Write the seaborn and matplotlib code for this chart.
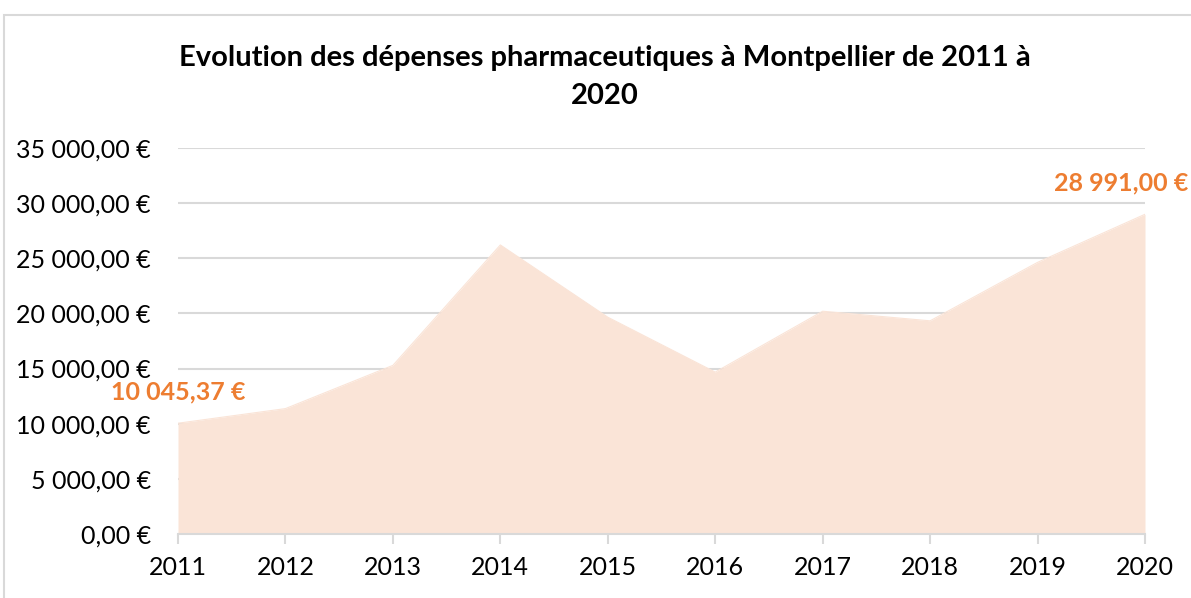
import numpy as np
import pandas as pd
import seaborn as sns
import matplotlib.pyplot as plt
from matplotlib.patches import Rectangle
from matplotlib.ticker import FuncFormatter

annees = [2011, 2012, 2013, 2014, 2015, 2016, 2017, 2018, 2019, 2020]
depenses = [10045.37, 11370, 15290, 26210, 19660, 14680, 20200, 19330, 24630, 28991.00]
titre = "Evolution des dépenses pharmaceutiques à Montpellier de 2011 à\n2020"

data = pd.DataFrame({"annee": annees, "depenses": depenses})

sns.set_style("white")
plt.rcParams['font.family'] = ['Lato', 'DejaVu Sans']

fig = plt.figure(figsize=(11.91, 5.98), dpi=100)
ax = fig.add_axes([178 / 1191, 1 - 534 / 598, (1145 - 178) / 1191, (534 - 148) / 598])

fill = "#FAE4D7"
ax.fill_between(data["annee"], data["depenses"], color=fill, lw=0, zorder=2)
sns.lineplot(x="annee", y="depenses", data=data, color=fill, lw=0.8, ax=ax, zorder=3)

ax.set_xlim(2011, 2020)
ax.set_ylim(0, 35000)
ax.set_yticks(np.arange(0, 35001, 5000))
ax.set_xticks(annees)
ax.yaxis.set_major_formatter(FuncFormatter(lambda v, p: f"{v:,.2f}".replace(",", " ").replace(".", ",") + " €"))
ax.grid(axis="y", color="#D9D9D9", lw=1.5, zorder=1)
for s in ["top", "right", "left"]:
    ax.spines[s].set_visible(False)
ax.spines["bottom"].set_color("#D9D9D9")
ax.spines["bottom"].set_linewidth(1.5)
ax.spines["bottom"].set_zorder(4)
ax.tick_params(axis="x", bottom=True, length=7, width=1.5, color="#D9D9D9", labelsize=18, pad=9, labelcolor="#000000")
ax.tick_params(axis="y", left=False, labelsize=18, pad=16, labelcolor="#000000")
ax.set_xlabel("")
ax.set_ylabel("")

# etiquettes premiere et derniere valeur
def euro(v):
    return f"{v:,.2f}".replace(",", " ").replace(".", ",") + " €"

ax.annotate(euro(depenses[0]), (annees[0], depenses[0]), xytext=(0, 14), textcoords="offset points",
            ha="center", va="bottom", color="#ED7D31", fontsize=18, fontweight="bold",
            annotation_clip=False)
ax.annotate(euro(depenses[-1]), (annees[-1], depenses[-1]), xytext=(31, 14), textcoords="offset points",
            ha="right", va="bottom", color="#ED7D31", fontsize=18, fontweight="bold",
            annotation_clip=False)

fig.text(605 / 1191, 1 - 77 / 598, titre, ha="center", va="center", fontsize=21,
         fontweight="bold", linespacing=1.6, color="black")

fig.patches.append(Rectangle((4 / 1191, -0.1), 1.2, 1.1 - 15 / 598, transform=fig.transFigure,
                             fill=False, edgecolor="#D9D9D9", lw=1.5))

fig.savefig("out.png", dpi=100)
